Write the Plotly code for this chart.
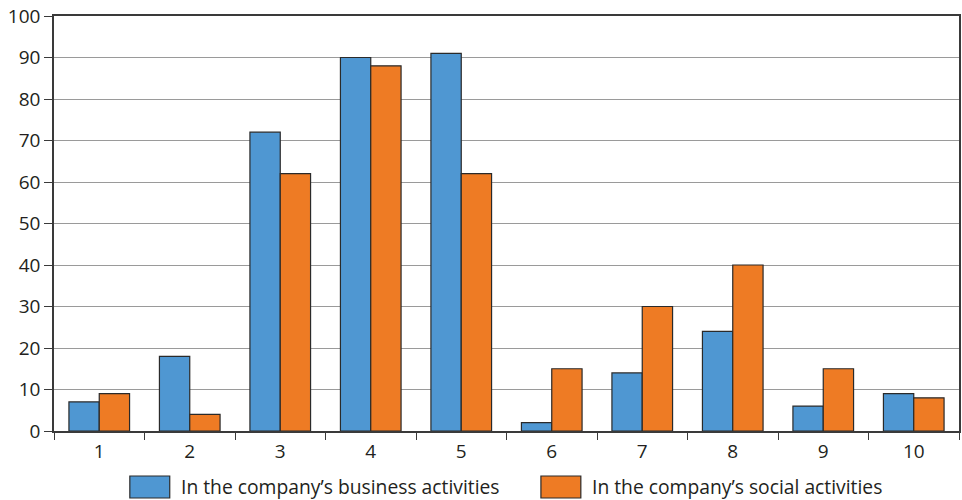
import plotly.graph_objects as go

categories = ["1", "2", "3", "4", "5", "6", "7", "8", "9", "10"]
business = [7, 18, 72, 90, 91, 2, 14, 24, 6, 9]
social = [9, 4, 62, 88, 62, 15, 30, 40, 15, 8]
series_names = ["In the company’s business activities", "In the company’s social activities"]
colors = ["#4F97D2", "#EE7B24"]

FONT = "Open Sans"

fig = go.Figure()
for vals, name, col in zip([business, social], series_names, colors):
    fig.add_trace(go.Bar(x=categories, y=vals, name=name, marker=dict(color=col, line=dict(color="#2a2a2a", width=1.2)),
                         showlegend=False))

W, H = 962, 500
ml, mr, mt, mb = 54, 1, 16, 69
pw = W - ml - mr
ph = H - mt - mb

def px(x):
    return (x - ml) / pw

def py(y):
    return (H - mb - y) / ph

shapes = []
annotations = []
for (bx, tx), name, col in zip([(130, 179), (542, 591)], series_names, colors):
    shapes.append(dict(type="rect", xref="paper", yref="paper", x0=px(bx), x1=px(bx + 40), y0=py(498), y1=py(476),
                       fillcolor=col, line=dict(color="#2a2a2a", width=1.2)))
    annotations.append(dict(xref="paper", yref="paper", x=px(tx), y=py(486), text=name, showarrow=False,
                            xanchor="left", yanchor="middle", font=dict(family=FONT, size=19.3, color="#231f20")))

fig.update_layout(
    width=W, height=H,
    margin=dict(l=ml, r=mr, t=mt, b=mb),
    paper_bgcolor="white", plot_bgcolor="white",
    barmode="group", bargap=0.33, bargroupgap=0,
    font=dict(family=FONT, size=19, color="#231f20"),
    shapes=shapes, annotations=annotations,
    xaxis=dict(type="category", showline=True, linecolor="#3a3a3a", linewidth=1.5, mirror=True,
               ticks="outside", tickson="boundaries", ticklen=7, tickcolor="#3a3a3a", tickwidth=1.2,
               showgrid=False, tickfont=dict(size=19), ticklabelstandoff=2),
    yaxis=dict(range=[0, 100], dtick=10, showline=True, linecolor="#3a3a3a", linewidth=1.5, mirror=True,
               ticks="outside", ticklen=8, tickcolor="#3a3a3a", tickwidth=1.2,
               showgrid=True, gridcolor="#9a9a9a", gridwidth=1, zeroline=False, tickfont=dict(size=19)),
)

fig.write_html("out.html")
